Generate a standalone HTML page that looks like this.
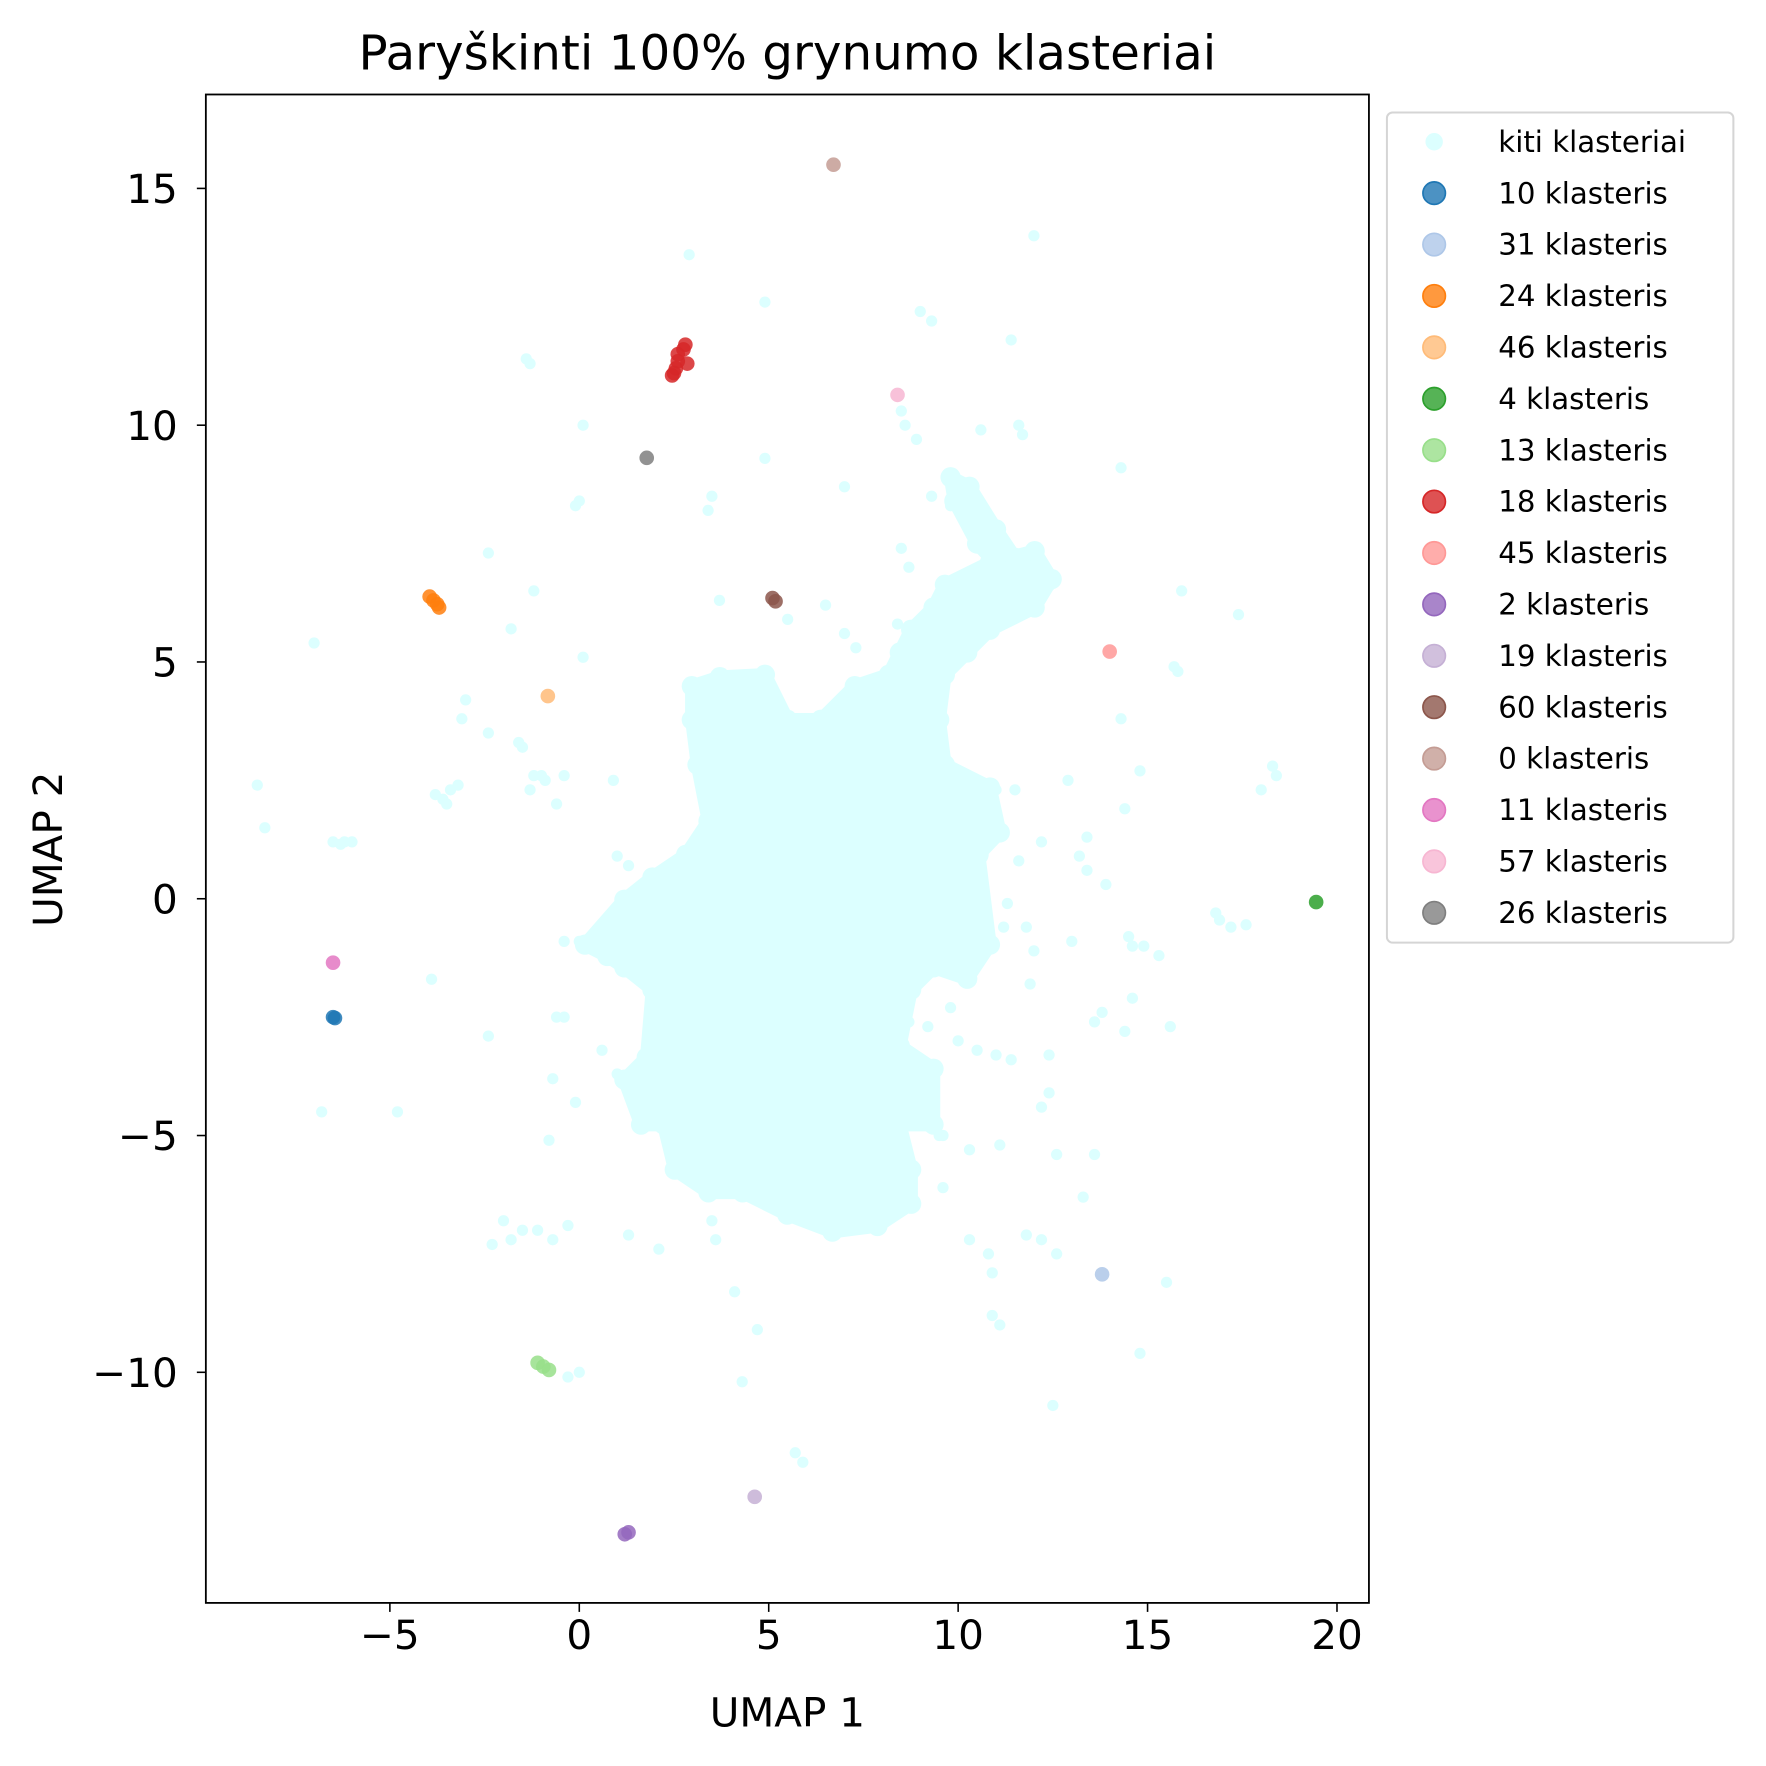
<!DOCTYPE html>
<html><head><meta charset="utf-8"><style>
html,body{margin:0;padding:0;background:#fff}
svg{display:block}
text{font-family:"DejaVu Sans","Liberation Sans",sans-serif;fill:#000}
</style></head><body>
<svg id="chart" width="1766" height="1766" viewBox="0 0 1570 1570" xmlns="http://www.w3.org/2000/svg">
<rect width="1570" height="1570" fill="#fff"/>
<text x="700" y="62" font-size="43" text-anchor="middle">Paryškinti 100% grynumo klasteriai</text>
<g id="plot"></g>
<rect x="183" y="84" width="1034" height="1341" fill="none" stroke="#000" stroke-width="1.6"/>
<g id="xticks"></g>
<g id="yticks"></g>
<text x="700" y="1535" font-size="36" text-anchor="middle">UMAP 1</text>
<text x="0" y="0" font-size="36" text-anchor="middle" transform="translate(55,755) rotate(-90)">UMAP 2</text>
<g id="legend"></g>
</svg>
<script>
const xTicks=[-5,0,5,10,15,20];
const yTicks=[15,10,5,0,-5,-10];
const blobOutline=[[9.65,6.63],[10.84,7.10],[12.02,7.34],[12.47,6.75],[12.02,6.15],[10.84,5.68],[10.24,5.20],[9.65,4.73],[9.50,3.78],[9.65,2.83],[10.84,2.35],[11.1,1.4],[10.54,0.93],[10.84,-0.97],[10.24,-1.69],[9.35,-1.45],[8.76,-1.92],[8.46,-3.11],[9.35,-3.59],[9.35,-4.77],[8.46,-4.77],[8.76,-5.72],[8.76,-6.44],[7.87,-6.91],[6.68,-7.03],[5.49,-6.67],[4.31,-6.20],[3.41,-6.20],[2.52,-5.72],[2.23,-4.77],[1.63,-4.77],[1.19,-3.82],[1.78,-3.35],[1.93,-1.92],[1.19,-1.45],[0.74,-1.21],[0.15,-0.97],[1.19,-0.02],[1.93,0.45],[2.82,0.93],[3.41,1.64],[3.12,2.83],[2.97,3.78],[2.97,4.49],[3.71,4.68],[4.90,4.73],[5.49,3.78],[6.38,3.78],[7.27,4.49],[8.17,4.73],[8.46,5.20],[8.76,5.68],[9.35,6.15]];
const armOutline=[[9.8,8.9],[10.3,8.7],[11.0,7.8],[11.5,7.2],[11.2,6.9],[10.5,7.5],[9.9,8.4]];
const otherX=[12.0,2.9,4.9,11.4,-1.4,-1.3,0.1,0.0,-0.1,3.5,3.4,4.9,7.0,10.6,11.6,11.7,14.3,8.5,8.6,8.9,9.0,9.3,-2.4,-1.2,-1.8,-7.0,0.1,3.7,6.5,7.0,7.3,5.5,8.4,8.5,8.7,-3.0,-3.1,-2.4,-1.6,-1.5,-3.6,-3.2,-1.2,-0.9,-0.6,-0.4,-1.3,-8.5,-8.3,-6.5,-6.2,-6.0,0.9,1.0,1.3,-3.9,-0.4,0.0,-0.4,-0.6,-2.4,0.6,1.0,-0.7,-0.1,-0.8,-4.8,-6.8,-2.0,-1.5,-0.7,-2.3,-0.3,1.3,2.1,3.6,3.5,4.1,4.7,4.3,-0.3,0.0,5.7,5.9,12.5,14.8,15.5,10.9,11.1,10.8,10.9,13.3,13.6,12.6,11.1,10.3,9.5,10.5,11.0,11.4,12.4,12.4,12.2,13.6,13.8,15.6,15.3,14.9,14.6,14.5,16.8,17.2,13.9,13.4,13.2,13.4,14.4,14.8,12.9,12.2,11.6,11.3,11.2,11.9,11.8,12.0,13.0,14.3,15.7,15.9,17.4,18.4,18.0,12.4,11.5,11.0,9.3,9.8,10.5,8.7,9.2,7.9,7.7,8.5,9.3,16.9,17.6,15.8,14.4,14.6,18.3,-6.3,-3.4,-1.0,3.9,8.6,9.6,2.0,1.7,2.6,3.5,4.4,5.2,6.0,8.0,9.0,9.8,10.0,2.4,3.3,9.6,12.2,12.6,11.8,10.3,-3.8,-3.5,-1.1,-1.8,12.3,12.5,8.7,9.0];
const otherY=[14.0,13.6,12.6,11.8,11.4,11.3,10.0,8.4,8.3,8.5,8.2,9.3,8.7,9.9,10.0,9.8,9.1,10.3,10.0,9.7,12.4,12.2,7.3,6.5,5.7,5.4,5.1,6.3,6.2,5.6,5.3,5.9,5.8,7.4,7.0,4.2,3.8,3.5,3.3,3.2,2.1,2.4,2.6,2.5,2.0,2.6,2.3,2.4,1.5,1.2,1.2,1.2,2.5,0.9,0.7,-1.7,-0.9,-0.9,-2.5,-2.5,-2.9,-3.2,-3.7,-3.8,-4.3,-5.1,-4.5,-4.5,-6.8,-7.0,-7.2,-7.3,-6.9,-7.1,-7.4,-7.2,-6.8,-8.3,-9.1,-10.2,-10.1,-10.0,-11.7,-11.9,-10.7,-9.6,-8.1,-8.8,-9.0,-7.5,-7.9,-6.3,-5.4,-5.4,-5.2,-5.3,-5.0,-3.2,-3.3,-3.4,-3.3,-4.1,-4.4,-2.6,-2.4,-2.7,-1.2,-1.0,-1.0,-0.8,-0.3,-0.6,0.3,0.6,0.9,1.3,1.9,2.7,2.5,1.2,0.8,-0.1,-0.6,-1.8,-0.6,-1.1,-0.9,3.8,4.9,6.5,6.0,2.6,2.3,6.6,2.3,2.3,8.5,8.3,8.0,-2.6,-2.7,-3.3,-4.2,-4.2,-4.4,-0.45,-0.55,4.8,-2.8,-2.1,2.8,1.15,2.3,2.6,2.7,-6.4,-6.1,-2.2,-3.3,-0.9,-0.4,-0.3,-0.5,-0.3,-0.8,-1.4,-2.3,-3.0,-5.2,-5.5,-5.0,-7.2,-7.5,-7.1,-7.2,2.2,2.0,-7.0,-7.2,6.9,6.7,1.8,1.4];
const clusterNames=["10 klasteris","31 klasteris","24 klasteris","46 klasteris","4 klasteris","13 klasteris","18 klasteris","45 klasteris","2 klasteris","19 klasteris","60 klasteris","0 klasteris","11 klasteris","57 klasteris","26 klasteris"];
const clusterColors=["#1f77b4","#aec7e8","#ff7f0e","#ffbb78","#2ca02c","#98df8a","#d62728","#ff9896","#9467bd","#c5b0d5","#8c564b","#c49c94","#e377c2","#f7b6d2","#7f7f7f"];
const clusterX=[[-6.45,-6.5],[13.8],[-3.95,-3.85,-3.75,-3.7],[-0.83],[19.45],[-1.1,-0.95,-0.8],[2.45,2.55,2.6,2.75,2.8,2.85,2.6,2.5],[14.0],[1.2,1.3],[4.63],[5.1,5.18],[6.71],[-6.5],[8.4],[1.78]];
const clusterY=[[-2.52,-2.5],[-7.93],[6.38,6.3,6.22,6.15],[4.28],[-0.07],[-9.8,-9.88,-9.95],[11.05,11.2,11.5,11.6,11.7,11.3,11.35,11.1],[5.22],[-13.42,-13.38],[-12.63],[6.35,6.28],[15.5],[-1.35],[10.64],[9.31]];

const NS="http://www.w3.org/2000/svg";
const sx=v=>515+v*33.68, sy=v=>799-v*42.1;
function mk(tag,attrs,parent){const e=document.createElementNS(NS,tag);for(const k in attrs)e.setAttribute(k,attrs[k]);parent.appendChild(e);return e;}
const plot=document.getElementById('plot');
const bg="#dcffff";
[blobOutline,armOutline].forEach((o,i)=>{
  const p=mk('polygon',{points:o.map(d=>sx(d[0])+','+sy(d[1])).join(' '),fill:bg,stroke:bg,'stroke-width':12,'stroke-linejoin':'round'},plot);
  
  
  o.forEach(d=>{
    const c=mk('circle',{cx:sx(d[0]),cy:sy(d[1]),r:9,fill:bg},plot);
    
    
  });
});
otherX.forEach((x,i)=>{
  const c=mk('circle',{cx:sx(x),cy:sy(otherY[i]),r:5,fill:bg},plot);
  
  
});
clusterX.forEach((xs,k)=>{
  xs.forEach((x,j)=>{
    const c=mk('circle',{cx:sx(x),cy:sy(clusterY[k][j]),r:6.5,fill:clusterColors[k],'fill-opacity':0.85},plot);
    
    
  });
});
const xg=document.getElementById('xticks');
xTicks.forEach(t=>{
  const l=mk('line',{x1:sx(t),x2:sx(t),y1:1425,y2:1433,stroke:'#000','stroke-width':1.4},xg);
  
  
  const tx=mk('text',{x:sx(t),y:1466,'font-size':36,'text-anchor':'middle'},xg);
  tx.textContent=t<0?'\u2212'+(-t):String(t);
  
  
});
const yg=document.getElementById('yticks');
yTicks.forEach(t=>{
  const l=mk('line',{x1:175,x2:183,y1:sy(t),y2:sy(t),stroke:'#000','stroke-width':1.4},yg);
  
  
  const tx=mk('text',{x:158,y:sy(t)+13,'font-size':36,'text-anchor':'end'},yg);
  tx.textContent=t<0?'\u2212'+(-t):String(t);
  
  
});
const lg=document.getElementById('legend');
const box=mk('rect',{x:1233,y:100,width:308,height:738,rx:5,fill:'#fff',stroke:'#d5d5d5','stroke-width':1.8},lg);


const names=["kiti klasteriai"].concat(clusterNames), cols=[bg].concat(clusterColors);
names.forEach((n,i)=>{
  const y=126+i*45.7;
  const g=mk('g',{},lg);
  
  
  mk('circle',{cx:1275,cy:y,r:i===0?7:10,fill:cols[i],'fill-opacity':i===0?1:0.8,stroke:cols[i],'stroke-width':1.5},g);
  const t=mk('text',{x:1332,y:y+9,'font-size':26},g);
  t.textContent=n;
});
</script>
</body></html>
